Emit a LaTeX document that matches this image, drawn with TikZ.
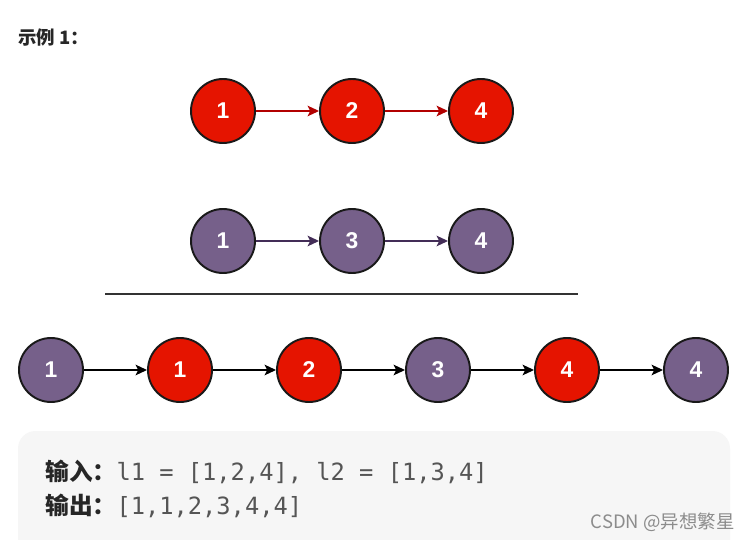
\documentclass[tikz,border=0pt]{standalone}
\usepackage{fontspec}
\setmainfont{Noto Sans CJK SC}
\setsansfont{Liberation Sans}
\setmonofont{DejaVu Sans Mono}
\usetikzlibrary{arrows.meta}
\usetikzlibrary{positioning}
\definecolor{lred}{HTML}{E51400}
\definecolor{lpurple}{HTML}{76608A}
\definecolor{ared}{HTML}{B20000}
\definecolor{apurple}{HTML}{432D57}
\definecolor{codebg}{HTML}{F6F6F6}
\definecolor{codefg}{HTML}{555555}
\definecolor{headfg}{HTML}{262626}
\tikzset{ball/.style = {circle, draw=black!90, line width=1.1pt,
                        minimum size=1.28cm, inner sep=0pt, text=white,
                        font=\sffamily\bfseries\fontsize{13}{13}\selectfont},
         redball/.style = {ball, fill=lred},
         purpleball/.style = {ball, fill=lpurple},
         link/.style = {-{Stealth[length=6.5pt, width=6pt, inset=1.5pt]}, line width=0.9pt}}

\begin{document}
\begin{tikzpicture}[x=0.02cm, y=-0.02cm]
    \clip (0, 0) rectangle (750, 540);
    \fill [white] (0, 0) rectangle (750, 540);
    \node [anchor=west, inner sep=0pt, text=headfg, font=\bfseries\fontsize{10.5}{11}\selectfont] (title) at (18, 38) {示例 1：};
    % l1
    \node [redball] (a1) at (223, 111) {1};
    \node [redball] (a2) at (352, 111) {2};
    \node [redball] (a3) at (481, 111) {4};
    \draw [link, ared] (a1) -- (a2);
    \draw [link, ared] (a2) -- (a3);
    % l2
    \node [purpleball] (b1) at (223, 241) {1};
    \node [purpleball] (b2) at (352, 241) {3};
    \node [purpleball] (b3) at (481, 241) {4};
    \draw [link, apurple] (b1) -- (b2);
    \draw [link, apurple] (b2) -- (b3);
    \coordinate (sepL) at (105, 294);
    \coordinate (sepR) at (578, 294);
    \draw [line width=1.3pt, black!80] (sepL) -- (sepR);
    % merged
    \foreach \v/\s [count=\i] in {1/purpleball, 1/redball, 2/redball, 3/purpleball, 4/redball, 4/purpleball} {
      \node [\s] (m\i) at ({51 + 129 * (\i - 1)}, 370) {\v};
    }
    \foreach \i [evaluate=\i as \j using int(\i + 1)] in {1, ..., 5} {
      \draw [link, black] (m\i) -- (m\j);
    }
    % example box
    \fill [codebg, rounded corners=10] (18, 431) rectangle (730, 570);
    \node [anchor=west, inner sep=0pt, font=\fontsize{13.5}{14}\selectfont] (inp) at (45, 472)
      {\textbf{\color{headfg}输入：}\texttt{\color{codefg}l1 = [1,2,4], l2 = [1,3,4]}};
    \node [anchor=west, inner sep=0pt, font=\fontsize{13.5}{14}\selectfont] (outp) at (45, 506)
      {\textbf{\color{headfg}输出：}\texttt{\color{codefg}[1,1,2,3,4,4]}};
    \node [anchor=east, inner sep=0pt, text=black!45, font=\fontsize{10.5}{11}\selectfont] (mark) at (735, 522) {CSDN @异想繁星};
  \end{tikzpicture}
\end{document}
